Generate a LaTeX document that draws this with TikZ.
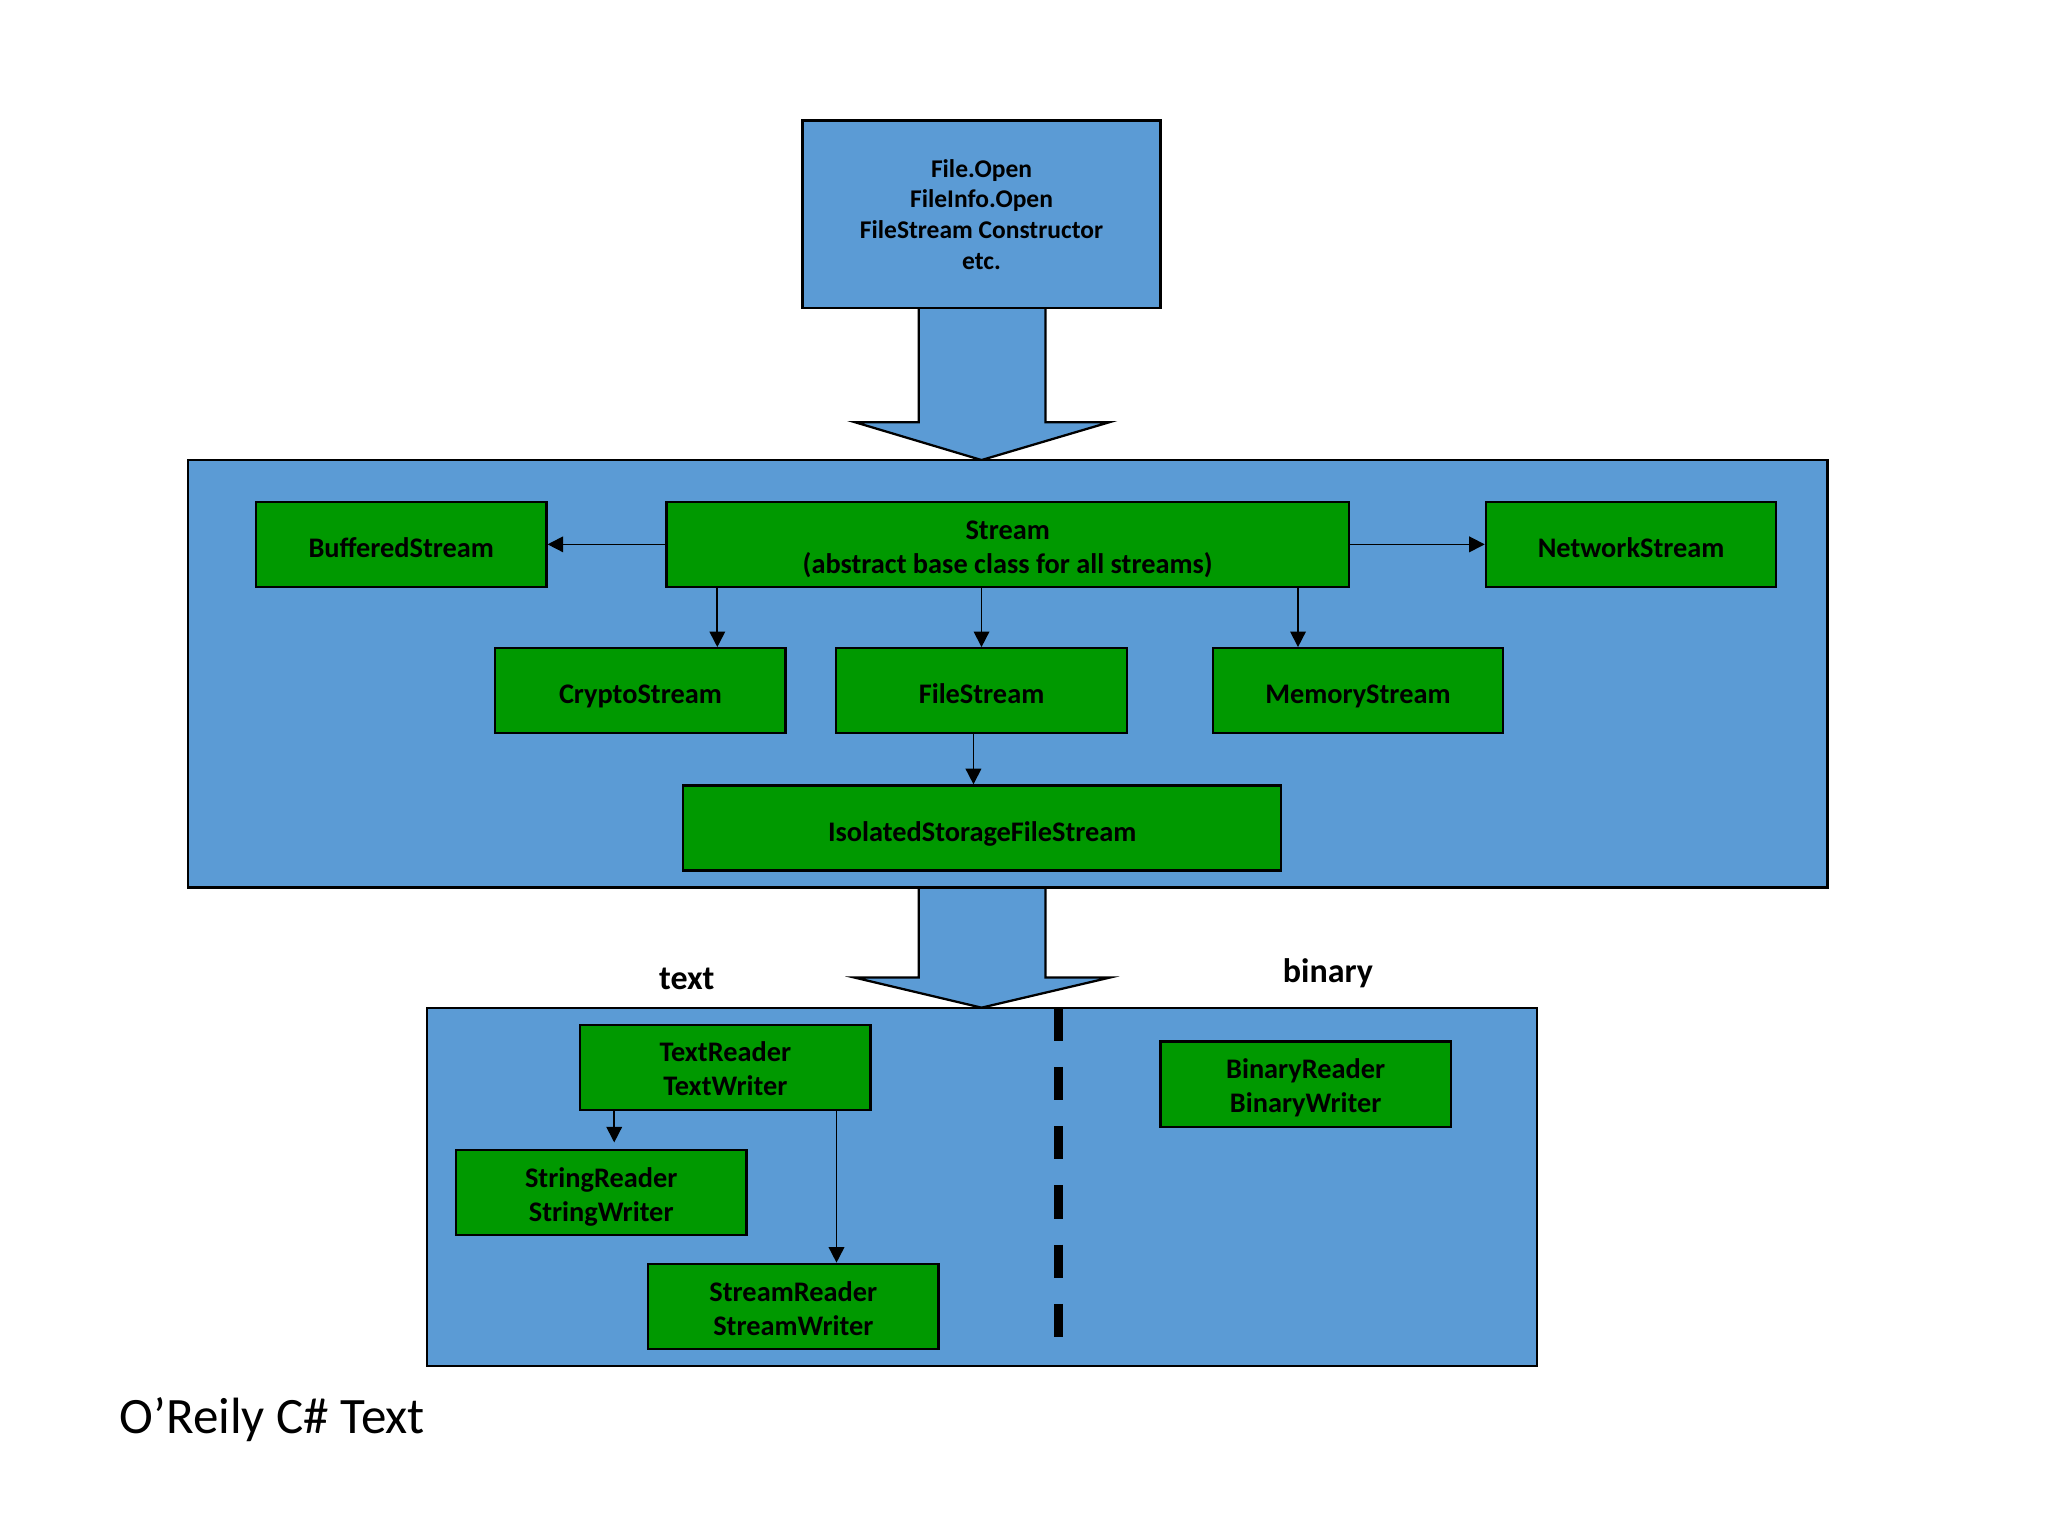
\documentclass[tikz,border=0pt]{standalone}
\usepackage{fontspec}
\setmainfont{Carlito}
\usetikzlibrary{arrows.meta}
\usetikzlibrary{positioning}
\definecolor{panelblue}{HTML}{5B9BD5}
\definecolor{classgreen}{HTML}{009900}
\tikzset{panel/.style={draw,fill=panelblue,line width=0.8pt},
         cls/.style={draw,fill=classgreen,line width=0.8pt,minimum width=3.6cm,minimum height=1.054cm,
                     align=center,font=\bfseries\fontsize{10}{12}\selectfont},
         oneline/.style={cls,text height=0.92em,text depth=0pt},
         twoline/.style={cls,text height=2.03em,text depth=0pt},
         link/.style={-{Triangle[length=5.5pt,width=5.5pt]},line width=0.6pt},
         blockarrow/.style={draw,fill=panelblue,line width=0.8pt,line join=miter},
         }

\begin{document}
\begin{tikzpicture}[x=0.01621cm,y=-0.01621cm,
	lbl/.style={font=\bfseries\fontsize{12}{14}\selectfont,anchor=base,inner sep=0pt}]
\useasboundingbox (0,0) rectangle (1567,1175);
% big arrows
\draw[blockarrow] (703,235) -- (703,323) -- (654,323) -- (751,352) -- (849,323) -- (800,323) -- (800,235);
\draw[blockarrow] (703,679) -- (703,748) -- (654,748) -- (751,771) -- (849,748) -- (800,748) -- (800,679);
% panels
\node[panel,minimum width=4.44cm,minimum height=2.33cm,align=center,
      font=\bfseries\fontsize{9}{10.8}\selectfont] (open) at (751,164)
      {File.Open\\FileInfo.Open\\FileStream Constructor\\etc.};
\node[panel,minimum width=20.33cm,minimum height=5.3cm] (streams) at (771,515.5) {};
\node[panel,minimum width=13.76cm,minimum height=4.44cm] (readers) at (751.5,908) {};
% stream classes
\node[twoline,minimum width=8.46cm] (stream) at (771,416.5) {Stream\\(abstract base class for all streams)};
\node[oneline] (buffered) at (307,416.5) {BufferedStream};
\node[oneline] (network) at (1248,416.5) {NetworkStream};
\node[oneline] (crypto) at (490,528.5) {CryptoStream};
\node[oneline] (file) at (751,528.5) {FileStream};
\node[oneline] (memory) at (1039,528.5) {MemoryStream};
\node[oneline,minimum width=7.41cm] (isolated) at (751.5,633.5) {IsolatedStorageFileStream};
\draw[link] (stream.west) -- (buffered.east);
\draw[link] (stream.east) -- (network.west);
\draw[link] ([xshift=-3.6cm]stream.south) -- ([xshift=-3.6cm]stream.south |- crypto.north);
\draw[link] (stream.south -| file.north) -- (file.north);
\draw[link] ([xshift=3.6cm]stream.south) -- ([xshift=3.6cm]stream.south |- memory.north);
\draw[link] ([xshift=-0.1cm]file.south) -- ([xshift=-0.1cm]file.south |- isolated.north);
% readers and writers
\node[lbl] (textlbl) at (525.5,757) {text};
\node[lbl] (binlbl) at (1016,751.5) {binary};
\node[twoline] (textrw) at (555,816.5) {TextReader\\TextWriter};
\node[twoline] (stringrw) at (460,912.5) {StringReader\\StringWriter};
\node[twoline] (streamrw) at (607,999.5) {StreamReader\\StreamWriter};
\node[twoline] (binaryrw) at (999,829.5) {BinaryReader\\BinaryWriter};
\draw[link,shorten >=2.3pt] ([xshift=-1.378cm]textrw.south) -- ([xshift=-1.378cm]textrw.south |- stringrw.north);
\draw[link] ([xshift=1.378cm]textrw.south) -- ([xshift=1.378cm]textrw.south |- streamrw.north);
\coordinate (splittop) at (810,771);
\coordinate (splitbot) at (810,1025);
\draw[line width=3.2pt,dash pattern=on 11.7pt off 9.2pt] (splittop) -- (splitbot);
\node[anchor=base west,inner sep=0pt,font=\fontsize{18}{22}\selectfont] (source) at (91,1096.5) {O’Reily C\# Text};
\end{tikzpicture}
\end{document}
